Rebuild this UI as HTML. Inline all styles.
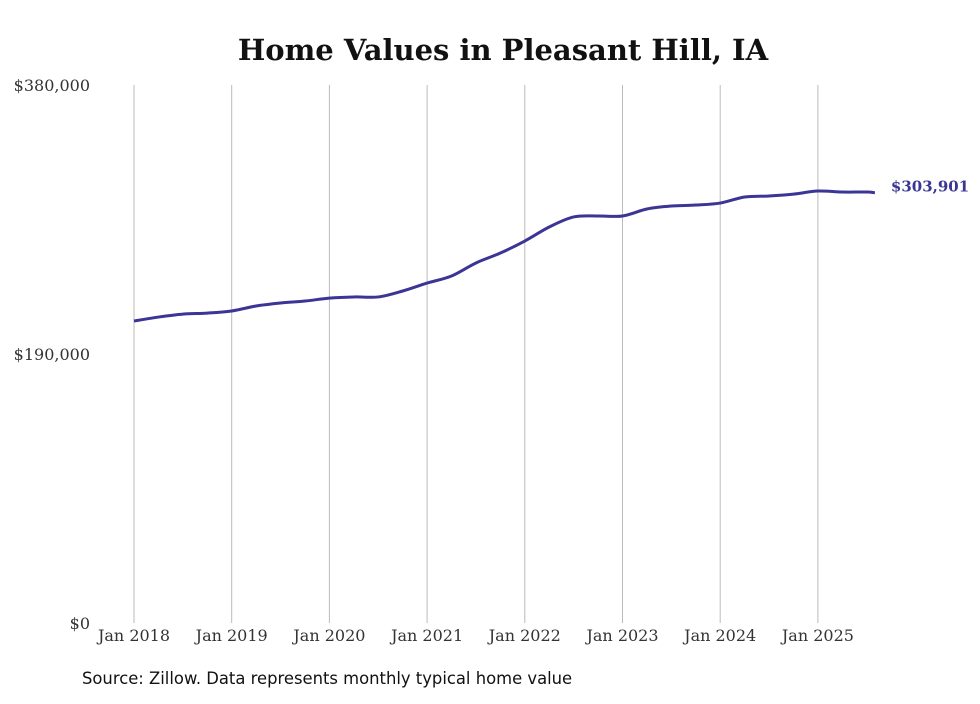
<!DOCTYPE html>
<html><head><meta charset="utf-8"><style>
body{margin:0;background:#fff;}
svg text{font-family:"DejaVu Serif",serif;}
</style></head><body>
<svg width="980" height="699" viewBox="0 0 980 699">
<text x="503" y="60" text-anchor="middle" font-size="29" font-weight="bold" fill="#111">Home Values in Pleasant Hill, IA</text>
<g id="grid"></g><g id="yaxis"></g><g id="xaxis"></g>
<path id="line" fill="none" stroke="#3b3595" stroke-width="3" stroke-linejoin="round"/>
<text id="endlabel" font-size="15" font-weight="bold" fill="#3b3595"></text>
<text x="82" y="684" font-size="16.4" fill="#111" style="font-family:'DejaVu Sans',sans-serif">Source: Zillow. Data represents monthly typical home value</text>
</svg>
<script>
const xLabels=["Jan 2018","Jan 2019","Jan 2020","Jan 2021","Jan 2022","Jan 2023","Jan 2024","Jan 2025"];
const yTicks=[0,190000,380000];
const yTickLabels=["$0","$190,000","$380,000"];
const months=[0,3,6,9,12,15,18,21,24,27,30,33,36,39,42,45,48,51,54,57,60,63,66,69,72,75,78,81,84,87,90,91];
const values=[213300,216100,218200,218900,220400,223900,226000,227400,229500,230300,230300,234500,240100,245100,254300,261300,269800,279700,286800,287500,287500,292400,294500,295200,296600,300900,301600,302900,305100,304400,304400,303901];
const endLabel="$303,901";
const x0=134,pxPerYear=97.7,yBase=623,yTop=85,yMax=380000;
const X=m=>x0+m/12*pxPerYear;
const Y=v=>yBase-(v/yMax)*(yBase-yTop);
const ns="http://www.w3.org/2000/svg";
const grid=document.getElementById('grid'),xa=document.getElementById('xaxis'),ya=document.getElementById('yaxis');
xLabels.forEach((l,i)=>{
 const ln=document.createElementNS(ns,'line');
 
 
 const x=X(i*12);
 ln.setAttribute('x1',x);ln.setAttribute('x2',x);ln.setAttribute('y1',yTop);ln.setAttribute('y2',yBase);
 ln.setAttribute('stroke','#bbb');ln.setAttribute('stroke-width','1');
 grid.appendChild(ln);
 const t=document.createElementNS(ns,'text');
 
 
 t.setAttribute('x',x);t.setAttribute('y',641);t.setAttribute('text-anchor','middle');t.setAttribute('font-size','16');t.setAttribute('fill','#333');
 t.textContent=l;xa.appendChild(t);
});
yTicks.forEach((v,i)=>{
 const t=document.createElementNS(ns,'text');
 
 
 t.setAttribute('x',90);t.setAttribute('y',Y(v)+6);t.setAttribute('text-anchor','end');t.setAttribute('font-size','16');t.setAttribute('fill','#333');
 t.textContent=yTickLabels[i];ya.appendChild(t);
});
const pts=months.map((m,i)=>[X(m),Y(values[i])]);
let d='M'+pts[0][0]+','+pts[0][1];
for(let i=0;i<pts.length-1;i++){
 const p0=pts[Math.max(0,i-1)],p1=pts[i],p2=pts[i+1],p3=pts[Math.min(pts.length-1,i+2)];
 const c1=[p1[0]+(p2[0]-p0[0])/6,p1[1]+(p2[1]-p0[1])/6];
 const c2=[p2[0]-(p3[0]-p1[0])/6,p2[1]-(p3[1]-p1[1])/6];
 d+=' C'+c1+' '+c2+' '+p2;
}
document.getElementById('line').setAttribute('d',d);
const el=document.getElementById('endlabel');
const lp=pts[pts.length-1];
el.setAttribute('x',lp[0]+16);el.setAttribute('y',lp[1]-1);
el.textContent=endLabel;
</script>
</body></html>
